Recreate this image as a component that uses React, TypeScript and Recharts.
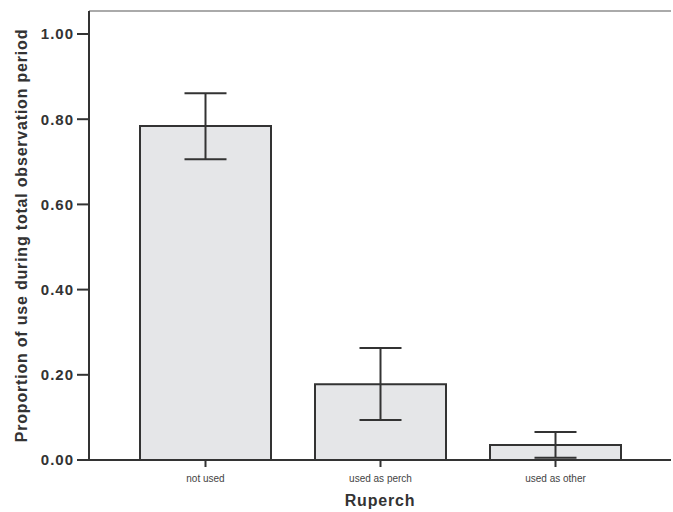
import { BarChart, Bar, XAxis, YAxis, ErrorBar, ReferenceLine } from "recharts";

const categories = ["not used", "used as perch", "used as other"];
const means = [0.784, 0.178, 0.035];
const ciLower = [0.706, 0.094, 0.005];
const ciUpper = [0.861, 0.263, 0.066];
const yTicks = [0, 0.2, 0.4, 0.6, 0.8, 1.0];
const yMax = 1.054;

const data = categories.map((name, i) => ({
  name,
  value: means[i],
  err: [means[i] - ciLower[i], ciUpper[i] - means[i]],
}));

const axisColor = "#333";
const font = "Arial, Liberation Sans, sans-serif";

export default function App() {
  return (
    <div style={{ position: "absolute", left: 0, top: 0, background: "#fff" }}>
      <BarChart
        width={673}
        height={512}
        data={data}
        margin={{ top: 11, right: 2, left: 0, bottom: 0 }}
        barCategoryGap={22}
      >
        <XAxis
          dataKey="name"
          padding={{ left: 29, right: 28 }}
          stroke={axisColor}
          strokeWidth={2}
          tickSize={7}
          tickMargin={8}
          height={52}
          tick={{ fontSize: 10, fill: "#444", fontFamily: font }}
          label={{
            value: "Ruperch",
            position: "insideBottom",
            offset: 6,
            style: { fontSize: 16, letterSpacing: 0.8, fontWeight: "bold", fill: axisColor, fontFamily: font },
          }}
        />
        <YAxis
          domain={[0, yMax]}
          ticks={yTicks}
          allowDataOverflow
          width={89}
          stroke={axisColor}
          strokeWidth={2}
          tickSize={12}
          tickMargin={3}
          tickFormatter={(v: number) => v.toFixed(2)}
          tick={{ fontSize: 15, letterSpacing: 1, fontWeight: "bold", fill: axisColor, fontFamily: font }}
          label={{
            value: "Proportion of use during total observation period",
            angle: -90,
            position: "insideLeft",
            offset: 21,
            style: { textAnchor: "middle", fontSize: 16, letterSpacing: 0.8, fontWeight: "bold", fill: axisColor, fontFamily: font },
          }}
        />
        <YAxis yAxisId="right" orientation="right" width={0} tick={false} tickLine={false} stroke="#bbb" strokeWidth={2} />
        <ReferenceLine y={yMax} stroke="#aaa" strokeWidth={2} />
        <Bar dataKey="value" fill="#e5e6e8" stroke={axisColor} strokeWidth={2} isAnimationActive={false}>
          <ErrorBar dataKey="err" width={21} stroke={axisColor} strokeWidth={2} direction="y" />
        </Bar>
      </BarChart>
    </div>
  );
}
